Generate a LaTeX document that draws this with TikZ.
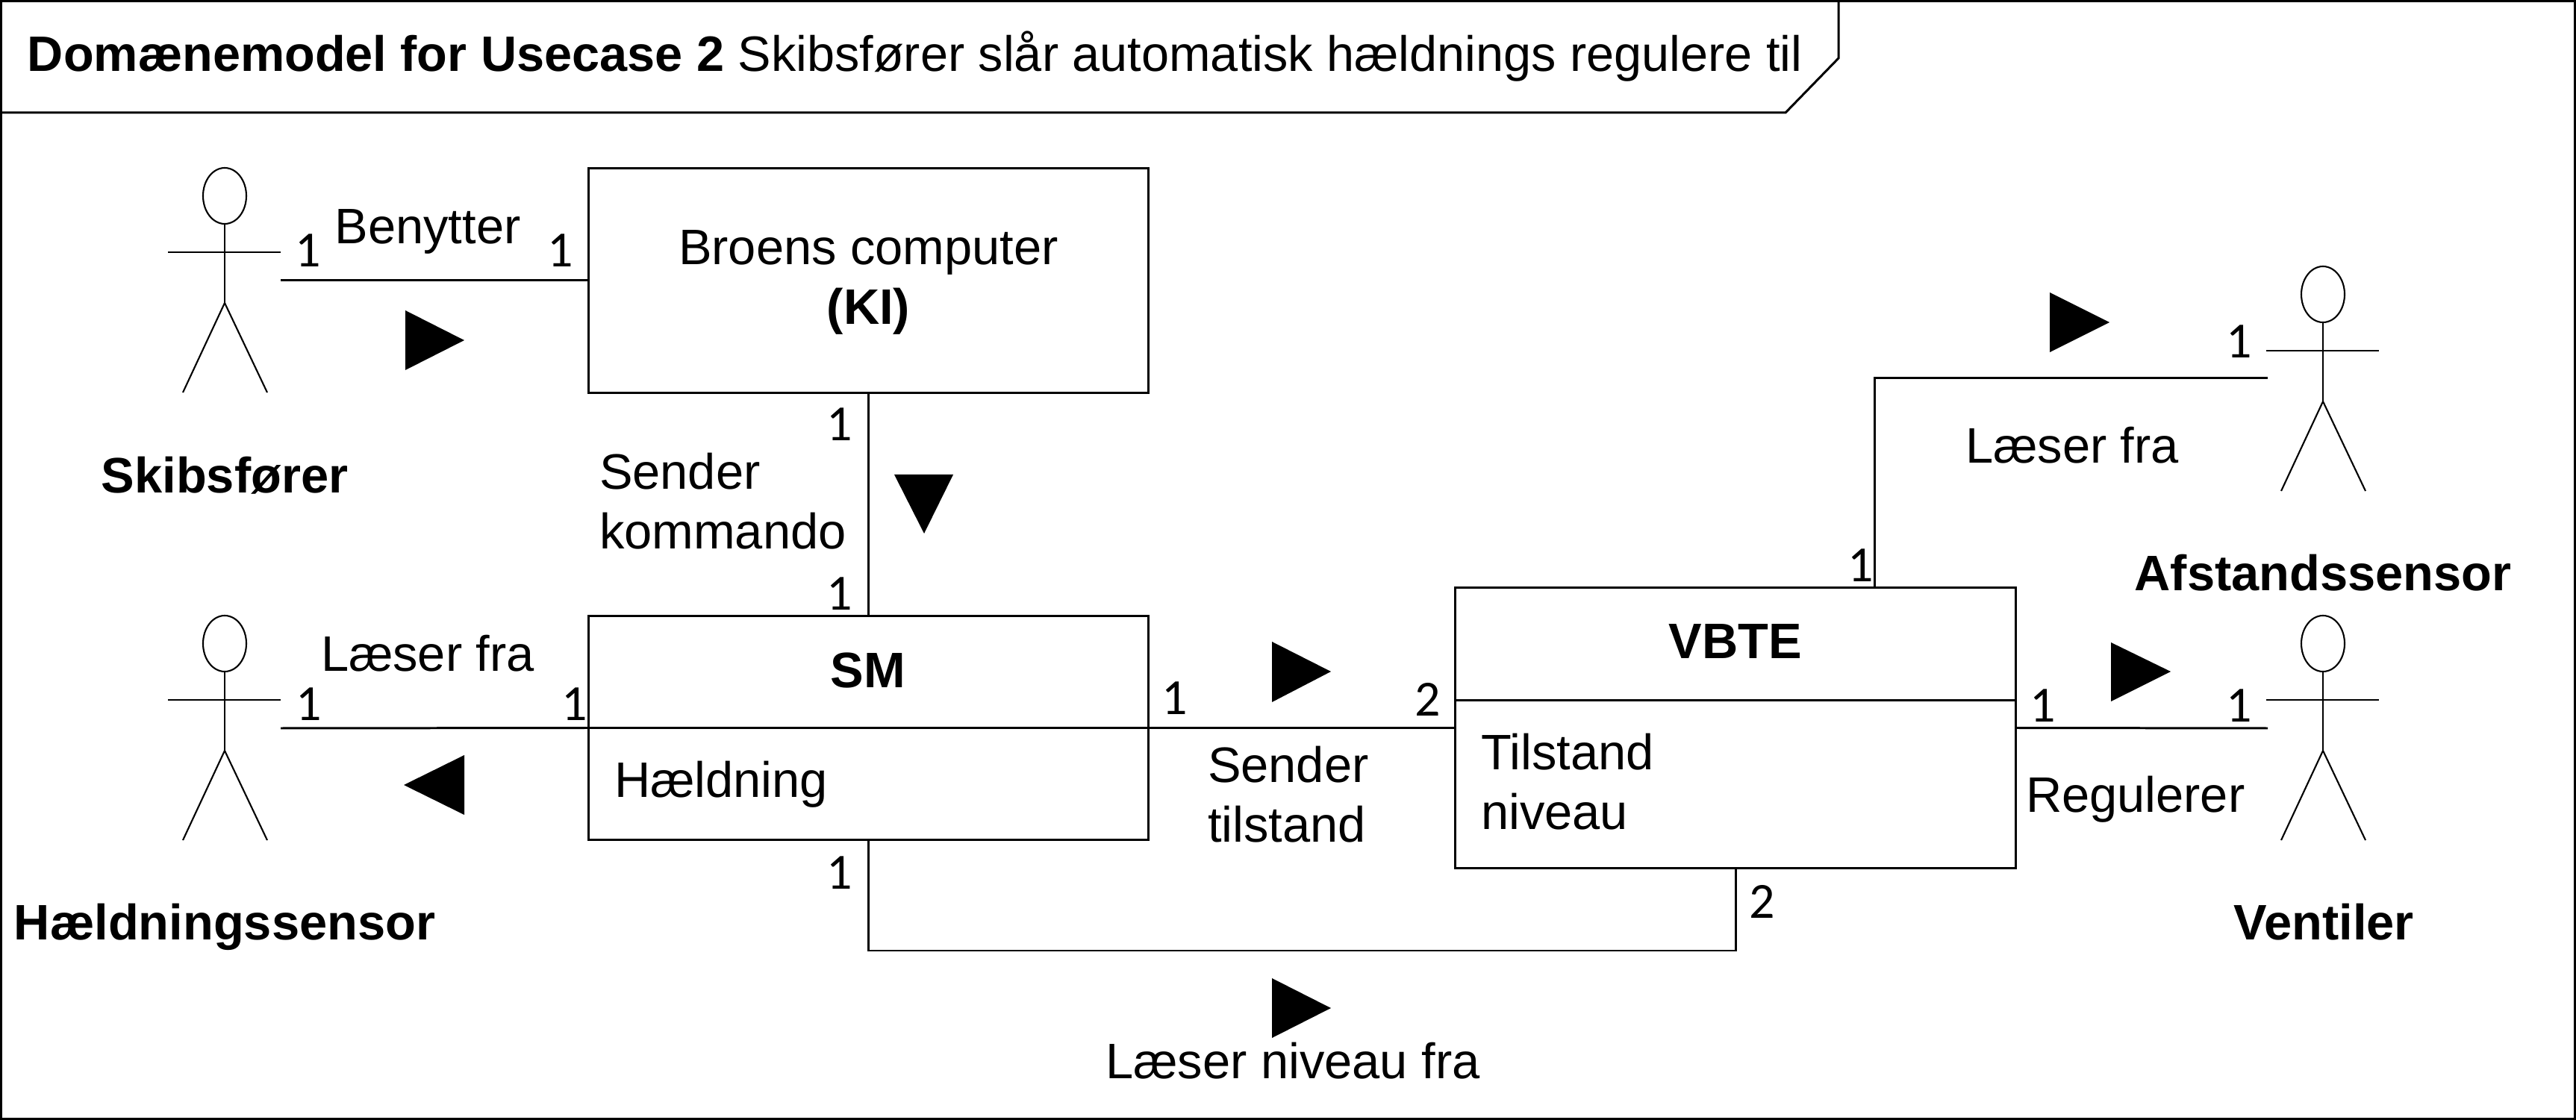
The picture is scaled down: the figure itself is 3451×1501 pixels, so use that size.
\documentclass[tikz,border=0pt]{standalone}
\usepackage{fontspec}
\setmainfont{Liberation Sans}
\newfontfamily\multfont{Carlito}
\usetikzlibrary{calc}
\tikzset{
  line/.style={draw=black,line width=0.85pt},
  classbox/.style={line,rectangle,inner sep=0pt,outer sep=0pt,minimum width=7.49cm},
  lbl/.style={inner sep=0pt,outer sep=0pt,anchor=base,font=\fontsize{19}{22}\selectfont},
  lbll/.style={lbl,anchor=base west},
  blbl/.style={lbl,font=\fontsize{19}{22}\selectfont\bfseries},
  mult/.style={inner sep=0pt,outer sep=0pt,anchor=base,font=\fontsize{19.3}{22}\multfont},
  tri/.style={fill=black,draw=none},
  actor/.pic={
    \draw[line width=0.6pt] (0,37.5) ellipse (29 and 37.5);
    \draw[line width=0.6pt] (0,75) -- (0,181);
    \draw[line width=0.6pt] (-76,113) -- (75,113);
    \draw[line width=0.6pt] (-56,301) -- (0,181) -- (57,301);
  }
}
\begin{document}
\begin{tikzpicture}[x=0.01cm,y=-0.01cm]
\useasboundingbox (0,0) rectangle (3451,1501);
\draw[line] (1.5,1.5) rectangle (3449.5,1499.5);
\draw[line] (0,151) -- (2392,151) -- (2463,78) -- (2463,0);
\node[lbll,font=\fontsize{18.95}{22}\selectfont] (title) at (37,96) {\textbf{Domænemodel for Usecase 2} Skibsfører slår automatisk hældnings regulere til};

% actors
\pic (askib) at (301,225) {actor};
\pic (ahael) at (301,825) {actor};
\pic (aafst) at (3112,357) {actor};
\pic (avent) at (3112,825) {actor};
\coordinate (skibR) at (376,376);
\coordinate (haelR) at (376,976);
\coordinate (afstL) at (3038,507);
\coordinate (ventL) at (3038,976);

% boxes
\node[classbox,minimum height=3cm] (bro) at (1163.5,376) {};
\node[classbox,minimum height=3cm] (sm) at (1163.5,975.5) {};
\node[classbox,minimum width=7.5cm,minimum height=3.76cm] (vbte) at (2325,975.5) {};
\draw[line] (sm.west) -- (sm.east);
\draw[line] ($(vbte.west)+(0,-37)$) -- ($(vbte.east)+(0,-37)$);
\node[lbl] (bro1) at (1163.5,355) {Broens computer};
\node[blbl] (bro2) at (1163.5,435) {(KI)};
\node[blbl] (smt) at (1163,922) {SM};
\node[lbll] (smh) at (823,1068) {Hældning};
\node[blbl] (vbt) at (2325,883) {VBTE};
\node[lbll] (vb1) at (1984,1032) {Tilstand};
\node[lbll] (vb2) at (1984,1111) {niveau};

% connectors
\draw[line] (skibR) -- (bro.west);
\draw[line] (bro.south) -- (sm.north);
\draw[line] (haelR) -- (sm.west);
\draw[line] (sm.east) -- (vbte.west);
\draw[line] (vbte.east) -- (ventL);
\coordinate (vtop) at (2511.5,787);
\draw[line] (vtop) |- (afstL);
\coordinate (lowL) at (1163.5,1274);
\coordinate (lowR) at (2325,1274);
\draw[line] (sm.south) -- (lowL) -- (lowR) -- (vbte.south);

% direction triangles
\fill[tri] (543,416) -- (622,456) -- (543,496) -- cycle;
\fill[tri] (1198,636) -- (1277,636) -- (1238,715) -- cycle;
\fill[tri] (622,1012) -- (541,1052) -- (622,1092) -- cycle;
\fill[tri] (1704,860) -- (1783,900) -- (1704,941) -- cycle;
\fill[tri] (1704,1311) -- (1783,1351) -- (1704,1391) -- cycle;
\fill[tri] (2746,392) -- (2826,432) -- (2746,472) -- cycle;
\fill[tri] (2828,861) -- (2908,900) -- (2828,940) -- cycle;

% connector labels
\node[lbl] (l1) at (573,327) {Benytter};
\node[lbl] (l2) at (573,900) {Læser fra};
\node[lbll] (l3) at (803,656) {Sender};
\node[lbll] (l4) at (803,736) {kommando};
\node[lbll] (l5) at (1618,1049) {Sender};
\node[lbll] (l6) at (1618,1128) {tilstand};
\node[lbl] (l7) at (2776,621) {Læser fra};
\node[lbll] (l8) at (2714,1088) {Regulerer};
\node[lbl] (l9) at (1732,1445) {Læser niveau fra};

% actor names
\node[blbl] (n1) at (301,661) {Skibsfører};
\node[blbl] (n2) at (301,1259) {Hældningssensor};
\node[blbl] (n3) at (3112,792) {Afstandssensor};
\node[blbl] (n4) at (3113,1259) {Ventiler};

% multiplicities
\node[mult] (m1) at (413,358) {1};
\node[mult] (m2) at (751,358) {1};
\node[mult] (m3) at (1125,591) {1};
\node[mult] (m4) at (1125,818) {1};
\node[mult] (m5) at (414,966) {1};
\node[mult] (m6) at (770,966) {1};
\node[mult] (m7) at (1125,1192) {1};
\node[mult] (m8) at (1574,958) {1};
\node[mult] (m9) at (1913,960) {2};
\node[mult] (m10) at (2737,968) {1};
\node[mult] (m11) at (3000,968) {1};
\node[mult] (m12) at (3000,480) {1};
\node[mult] (m13) at (2493,780) {1};
\node[mult] (m14) at (2361,1230) {2};
\end{tikzpicture}
\end{document}
